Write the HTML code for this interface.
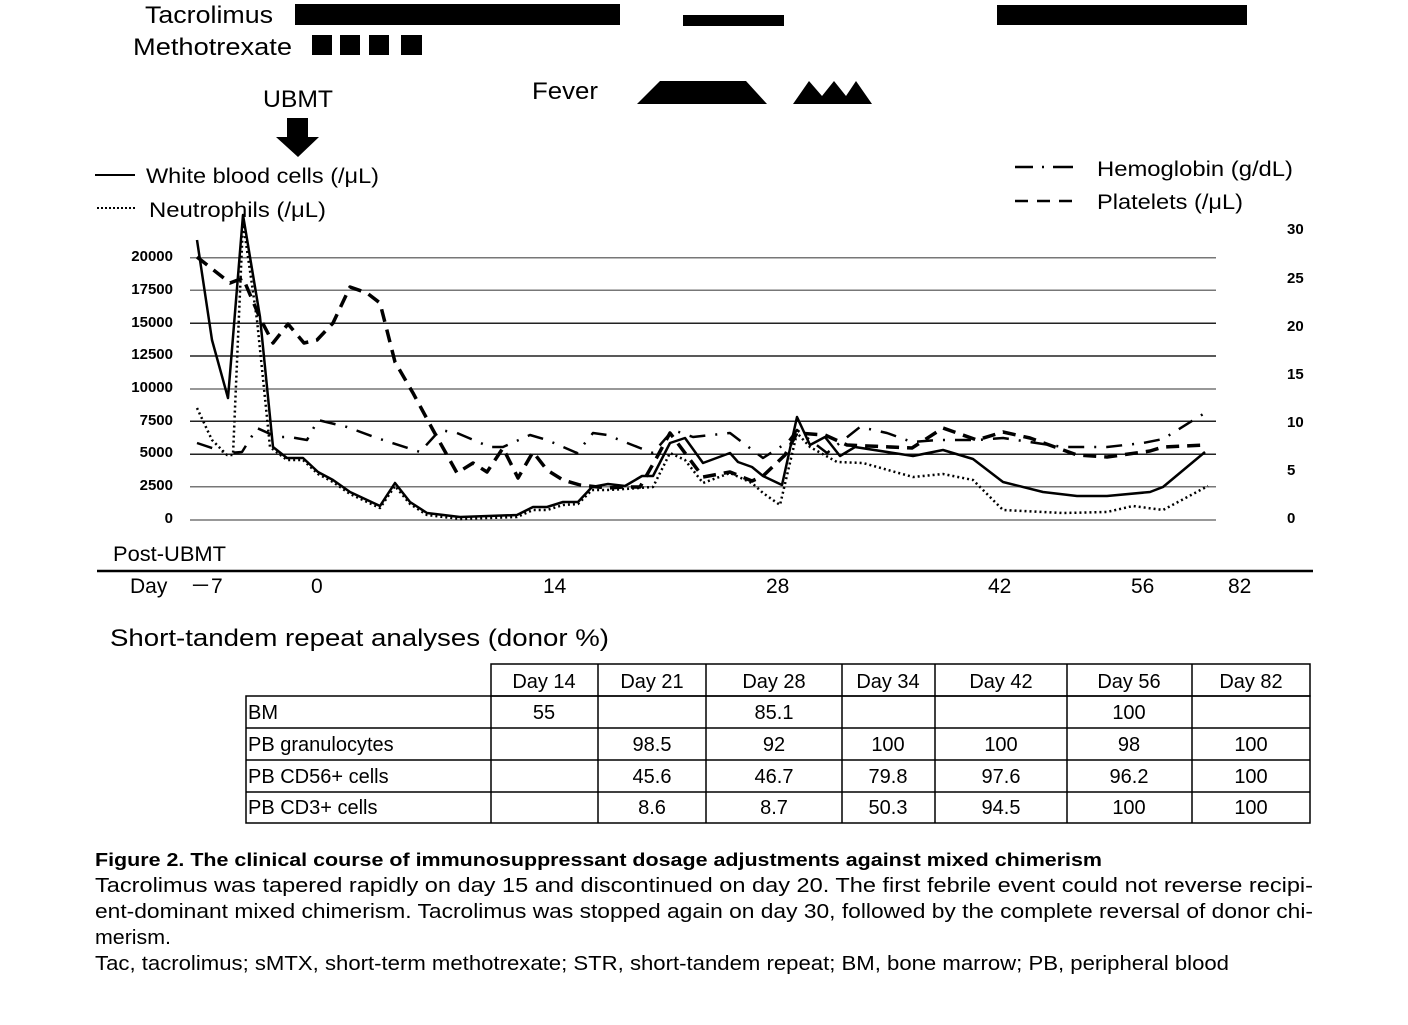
<!DOCTYPE html>
<html><head><meta charset="utf-8"><style>
body{margin:0;background:#fff;}
svg{display:block;font-family:"Liberation Sans",sans-serif;}
</style></head><body>
<svg width="1408" height="1025" viewBox="0 0 1408 1025" xmlns="http://www.w3.org/2000/svg">
<text x="145" y="23" font-size="24" textLength="128" lengthAdjust="spacingAndGlyphs">Tacrolimus</text>
<text x="133" y="55" font-size="24" textLength="159" lengthAdjust="spacingAndGlyphs">Methotrexate</text>
<rect x="295" y="4" width="325" height="21"/>
<rect x="683" y="15" width="101" height="11"/>
<rect x="997" y="5" width="250" height="20"/>
<rect x="312" y="35" width="20" height="20"/><rect x="340" y="35" width="20" height="20"/><rect x="369" y="35" width="20" height="20"/><rect x="401" y="35" width="21" height="20"/>
<text x="532" y="99" font-size="24" textLength="66" lengthAdjust="spacingAndGlyphs">Fever</text>
<polygon points="637,104 660,81 746,81 767,104"/>
<polygon points="793,104 809,81 822,96 834,81 846,96 856,81 872,104"/>
<text x="263" y="107" font-size="24" textLength="70" lengthAdjust="spacingAndGlyphs">UBMT</text>
<polygon points="287,118 308,118 308,137 319,137 298,157 276,137 287,137"/>
<line x1="95" y1="175" x2="135" y2="175" stroke="#000" stroke-width="2"/>
<text x="146" y="183" font-size="21" textLength="233" lengthAdjust="spacingAndGlyphs">White blood cells (/μL)</text>
<line x1="97" y1="208" x2="135" y2="208" stroke="#000" stroke-width="2" stroke-dasharray="2,2"/>
<text x="149" y="217" font-size="21" textLength="177" lengthAdjust="spacingAndGlyphs">Neutrophils (/μL)</text>
<path d="M1015,167 h18 M1042,167 h2 M1053,167 h20" stroke="#000" stroke-width="2.5"/>
<text x="1097" y="176" font-size="21" textLength="196" lengthAdjust="spacingAndGlyphs">Hemoglobin (g/dL)</text>
<line x1="1015" y1="201" x2="1073" y2="201" stroke="#000" stroke-width="2.5" stroke-dasharray="13,9"/>
<text x="1097" y="209" font-size="21" textLength="146" lengthAdjust="spacingAndGlyphs">Platelets (/μL)</text>
<g stroke="#777" stroke-width="1.5">
<line x1="190" y1="257.7" x2="1216" y2="257.7"/><line x1="190" y1="290.3" x2="1216" y2="290.3"/>
<line x1="190" y1="323.3" x2="1216" y2="323.3" stroke="#222"/><line x1="190" y1="356" x2="1216" y2="356" stroke="#222"/>
<line x1="190" y1="389" x2="1216" y2="389"/><line x1="190" y1="421.3" x2="1216" y2="421.3" stroke="#222"/>
<line x1="190" y1="454.3" x2="1216" y2="454.3" stroke="#222"/><line x1="190" y1="486.7" x2="1216" y2="486.7"/>
<line x1="190" y1="520" x2="1216" y2="520"/>
</g>
<g font-size="15" font-weight="bold" text-anchor="end">
<text x="173" y="261">20000</text><text x="173" y="294">17500</text><text x="173" y="327">15000</text><text x="173" y="359">12500</text><text x="173" y="392">10000</text><text x="173" y="425">7500</text><text x="173" y="457">5000</text><text x="173" y="490">2500</text><text x="173" y="523">0</text>
</g>
<g font-size="15" font-weight="bold">
<text x="1287" y="234">30</text><text x="1287" y="283">25</text><text x="1287" y="331">20</text><text x="1287" y="379">15</text><text x="1287" y="427">10</text><text x="1287" y="475">5</text><text x="1287" y="523">0</text>
</g>
<g fill="none" stroke="#000" stroke-linejoin="round">
<polyline stroke-width="2.5" points="197,240 212,340 228,398 243,215 260,317 273,447 287,458 303,458 318,472 333,480 350,492 380,506 395,483 410,502 427,513 460,517 517,515 533,507 547,507 563,502 578,502 592,487 608,484 625,486 642,476 653,476 670,443 685,438 703,463 730,453 738,462 752,467 763,476 782,485 797,417 810,445 825,437 840,456 855,447 913,456 943,450 973,459 1003,482 1043,492 1077,496 1107,496 1150,492 1163,487 1205,452"/>
<polyline stroke-width="2.5" stroke-dasharray="2,3" points="197,408 212,440 227,455 233,455 243,222 257,320 270,447 287,460 303,460 318,474 333,482 350,494 380,508 395,486 410,504 427,515 460,519 517,517 533,510 547,510 563,505 578,504 592,490 607,490 625,489 653,487 670,453 685,460 703,483 730,473 752,483 763,493 780,505 797,433 810,447 837,462 863,463 913,477 943,474 973,480 1003,510 1063,513 1107,512 1133,506 1163,510 1208,486"/>
<polyline stroke-width="3.5" stroke-dasharray="13,8" points="197,257 230,283 243,278 260,318 273,343 288,324 304,343 317,340 333,323 350,287 367,293 380,303 395,362 413,393 433,430 457,473 473,463 487,472 503,448 518,478 533,452 547,470 563,480 580,485 607,488 623,487 640,487 657,457 670,433 703,477 730,472 752,481 763,476 785,455 797,433 825,435 847,445 912,448 943,428 977,440 1003,432 1030,438 1077,455 1107,457 1150,451 1163,447 1205,445"/>
<polyline stroke-width="2.5" stroke-dasharray="16,10,2,10" points="197,443 227,453 242,452 257,428 277,437 290,437 307,440 318,420 347,427 377,438 420,452 440,430 457,433 490,447 503,447 530,435 547,440 577,453 593,433 607,435 640,448 653,453 673,430 693,437 730,433 763,458 788,442 797,430 827,453 860,427 887,433 912,442 937,440 977,440 1003,438 1063,447 1107,447 1143,443 1163,439 1208,411"/>
</g>
<text x="113" y="561" font-size="21" textLength="113" lengthAdjust="spacingAndGlyphs">Post-UBMT</text>
<line x1="97" y1="571" x2="1313" y2="571" stroke="#000" stroke-width="2.5"/>
<g font-size="21">
<text x="130" y="593">Day</text><text x="190" y="593">－7</text><text x="311" y="593">0</text><text x="543" y="593">14</text><text x="766" y="593">28</text><text x="988" y="593">42</text><text x="1131" y="593">56</text><text x="1228" y="593">82</text>
</g>
<text x="110" y="646" font-size="24" textLength="499" lengthAdjust="spacingAndGlyphs">Short-tandem repeat analyses (donor %)</text>
<g stroke="#000" stroke-width="1.5" fill="none">
<rect x="491" y="664" width="819" height="32"/>
<rect x="246" y="696" width="1064" height="127"/>
<path d="M246,728 H1310 M246,760 H1310 M246,792 H1310 M491,696 V823 M598,664 V823 M706,664 V823 M842,664 V823 M935,664 V823 M1067,664 V823 M1192,664 V823"/>
</g>
<g font-size="20" text-anchor="middle">
<text x="544" y="688">Day 14</text><text x="652" y="688">Day 21</text><text x="774" y="688">Day 28</text><text x="888" y="688">Day 34</text><text x="1001" y="688">Day 42</text><text x="1129" y="688">Day 56</text><text x="1251" y="688">Day 82</text>
<text x="544" y="719">55</text><text x="774" y="719">85.1</text><text x="1129" y="719">100</text>
<text x="652" y="751">98.5</text><text x="774" y="751">92</text><text x="888" y="751">100</text><text x="1001" y="751">100</text><text x="1129" y="751">98</text><text x="1251" y="751">100</text>
<text x="652" y="783">45.6</text><text x="774" y="783">46.7</text><text x="888" y="783">79.8</text><text x="1001" y="783">97.6</text><text x="1129" y="783">96.2</text><text x="1251" y="783">100</text>
<text x="652" y="814">8.6</text><text x="774" y="814">8.7</text><text x="888" y="814">50.3</text><text x="1001" y="814">94.5</text><text x="1129" y="814">100</text><text x="1251" y="814">100</text>
</g>
<g font-size="20">
<text x="248" y="719">BM</text><text x="248" y="751">PB granulocytes</text><text x="248" y="783">PB CD56+ cells</text><text x="248" y="814">PB CD3+ cells</text>
</g>
<text x="95" y="866" font-size="18" font-weight="bold" textLength="1007" lengthAdjust="spacingAndGlyphs">Figure 2.   The clinical course of immunosuppressant dosage adjustments against mixed chimerism</text>
<g font-size="20">
<text x="95" y="892" textLength="1218" lengthAdjust="spacingAndGlyphs">Tacrolimus was tapered rapidly on day 15 and discontinued on day 20. The first febrile event could not reverse recipi-</text>
<text x="95" y="918" textLength="1218" lengthAdjust="spacingAndGlyphs">ent-dominant mixed chimerism. Tacrolimus was stopped again on day 30, followed by the complete reversal of donor chi-</text>
<text x="95" y="944" textLength="76" lengthAdjust="spacingAndGlyphs">merism.</text>
<text x="95" y="970" textLength="1134" lengthAdjust="spacingAndGlyphs">Tac, tacrolimus; sMTX, short-term methotrexate; STR, short-tandem repeat; BM, bone marrow; PB, peripheral blood</text>
</g>
</svg>
</body></html>
